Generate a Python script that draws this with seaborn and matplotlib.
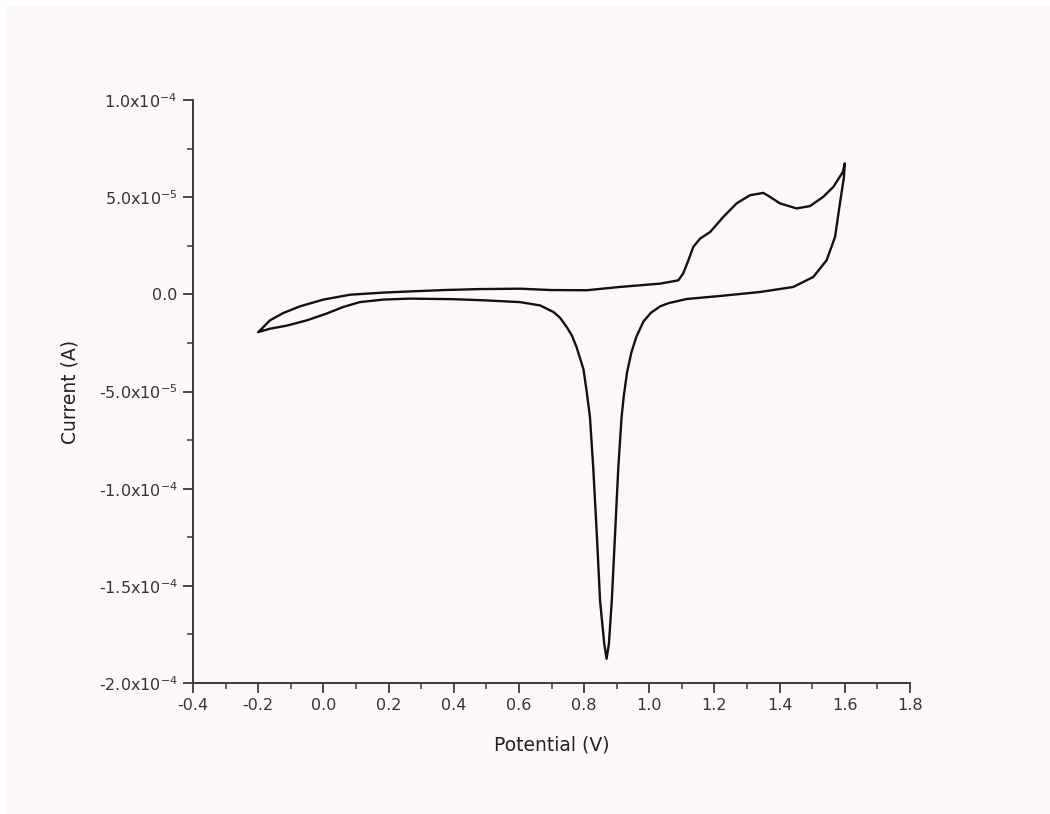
import numpy as np
import pandas as pd
import seaborn as sns
import matplotlib
matplotlib.use("Agg")
import matplotlib.pyplot as plt
from matplotlib.patches import Rectangle
from matplotlib.ticker import MultipleLocator, FixedLocator, FixedFormatter

# Forward (anodic) scan: -0.2 V -> 1.6 V  (current in units of 1e-5 A)
fwd_E = [-0.199, -0.164, -0.123, -0.072, 0.000, 0.082, 0.184, 0.266, 0.370, 0.480,
         0.603, 0.700, 0.808, 0.910, 1.033, 1.089, 1.104, 1.120, 1.135, 1.156,
         1.187, 1.227, 1.268, 1.309, 1.350, 1.370, 1.401, 1.452, 1.493, 1.534,
         1.565, 1.594, 1.600]
fwd_I = [-1.94, -1.34, -0.96, -0.62, -0.27, -0.02, 0.09, 0.15, 0.22, 0.27,
         0.29, 0.22, 0.21, 0.38, 0.55, 0.72, 1.07, 1.75, 2.44, 2.87,
         3.21, 3.98, 4.68, 5.10, 5.22, 5.02, 4.68, 4.42, 4.54, 5.02,
         5.53, 6.30, 6.74]

# Reverse (cathodic) scan: 1.6 V -> -0.2 V  (current in units of 1e-5 A)
rev_E = [1.597, 1.585, 1.570, 1.544, 1.503, 1.442, 1.340, 1.220, 1.115, 1.060,
         1.033, 1.005, 0.982, 0.960, 0.945, 0.932, 0.922, 0.915, 0.905, 0.895,
         0.885, 0.876, 0.869, 0.862, 0.849, 0.839, 0.828, 0.818, 0.808, 0.798,
         0.777, 0.762, 0.747, 0.726, 0.706, 0.665, 0.603, 0.496, 0.400, 0.266,
         0.184, 0.112, 0.061, 0.010, -0.051, -0.112, -0.164, -0.199]
rev_I = [6.00, 4.68, 2.95, 1.75, 0.89, 0.38, 0.12, -0.08, -0.24, -0.45,
         -0.62, -0.95, -1.40, -2.20, -3.00, -4.00, -5.20, -6.32, -8.90, -12.34,
         -15.77, -18.00, -18.75, -18.00, -15.77, -12.34, -8.90, -6.32, -5.00, -3.85,
         -2.72, -2.10, -1.69, -1.20, -0.91, -0.57, -0.40, -0.31, -0.25, -0.22,
         -0.27, -0.40, -0.65, -0.99, -1.34, -1.61, -1.77, -1.94]

x_ticks = [-0.4, -0.2, 0.0, 0.2, 0.4, 0.6, 0.8, 1.0, 1.2, 1.4, 1.6, 1.8]
x_ticklabels = ["-0.4", "-0.2", "0.0", "0.2", "0.4", "0.6", "0.8", "1.0", "1.2", "1.4", "1.6", "1.8"]
y_ticks = [-2.0e-4, -1.5e-4, -1.0e-4, -5.0e-5, 0.0, 5.0e-5, 1.0e-4]
y_ticklabels = ["-2.0x10$^{-4}$", "-1.5x10$^{-4}$", "-1.0x10$^{-4}$", "-5.0x10$^{-5}$",
                "0.0", "5.0x10$^{-5}$", "1.0x10$^{-4}$"]

df = pd.DataFrame({
    "E": fwd_E + rev_E,
    "I": [v * 1e-5 for v in fwd_I + rev_I],
})

sns.set_theme(style="ticks")
plt.rcParams["font.family"] = ["DejaVu Sans"]
plt.rcParams["mathtext.fontset"] = "dejavusans"

bg = "#fdf7fc"
fig = plt.figure(figsize=(10.5, 8.14), dpi=100, facecolor=bg)
fig.patches.append(Rectangle((0, 0), 5 / 1050, 1, transform=fig.transFigure, color="white", zorder=0))
fig.patches.append(Rectangle((0, 1 - 5 / 814), 1, 5 / 814, transform=fig.transFigure, color="white", zorder=0))
ax = fig.add_axes([193 / 1050, 1 - 683 / 814, (910 - 193) / 1050, (683 - 100) / 814])
ax.set_facecolor(bg)

sns.lineplot(data=df, x="E", y="I", sort=False, estimator=None, color="#111111",
             linewidth=1.7, ax=ax)
for ln in ax.get_lines():
    ln.set_solid_joinstyle("round")
    ln.set_solid_capstyle("round")

ax.set_xlim(-0.4, 1.8)
ax.set_ylim(-2.0e-4, 1.0e-4)
ax.xaxis.set_major_locator(FixedLocator(x_ticks))
ax.xaxis.set_major_formatter(FixedFormatter(x_ticklabels))
ax.yaxis.set_major_locator(FixedLocator(y_ticks))
ax.yaxis.set_major_formatter(FixedFormatter(y_ticklabels))
ax.xaxis.set_minor_locator(MultipleLocator(0.1))
ax.yaxis.set_minor_locator(MultipleLocator(2.5e-5))

for s in ["top", "right"]:
    ax.spines[s].set_visible(False)
for s in ["left", "bottom"]:
    ax.spines[s].set_color("#3a3a3a")
    ax.spines[s].set_linewidth(1.4)

ax.tick_params(which="major", direction="out", length=7, width=1.3, color="#3a3a3a",
               labelsize=11.5, labelcolor="#333333", pad=4)
ax.tick_params(which="minor", direction="out", length=4, width=1.1, color="#3a3a3a")

ax.set_xlabel("Potential (V)", fontsize=13.5, color="#222222", labelpad=16)
ax.set_ylabel("Current (A)", fontsize=13.5, color="#222222", labelpad=14)

fig.savefig("out.png", dpi=100, facecolor=bg)
